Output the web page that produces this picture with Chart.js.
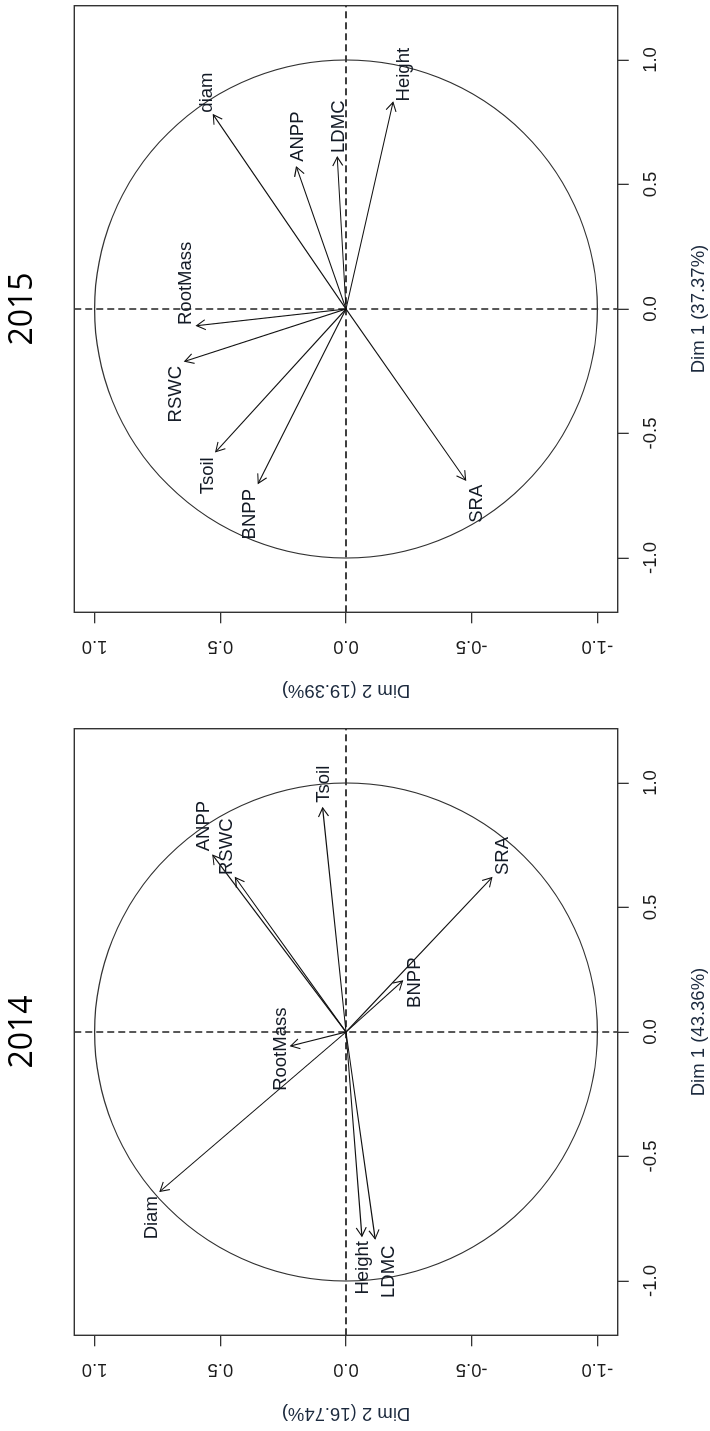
<!DOCTYPE html>
<html>
<head>
<meta charset="utf-8">
<script src="https://cdn.jsdelivr.net/npm/chart.js@4.4.1/dist/chart.umd.min.js"></script>
<style>
html, body { margin: 0; padding: 0; background: #fff; overflow: hidden; }
/* the whole figure is drawn landscape, then turned a quarter turn to the left */
#fig { position: absolute; left: 0; top: 0; width: 1431px; height: 710px;
       transform-origin: 0 0; transform: translateY(1431px) rotate(-90deg); }
.panel { position: absolute; top: 0; width: 708px; height: 710px; }
</style>
</head>
<body>
<div id="fig">
  <div class="panel" style="left:0"><canvas id="c2014" width="708" height="710"></canvas></div>
  <div class="panel" style="left:723px"><canvas id="c2015" width="708" height="710"></canvas></div>
</div>
<script>
const axisTicks = [-1, -0.5, 0, 0.5, 1];

// 2014
const vars2014 = ['Tsoil', 'ANPP', 'RSWC', 'SRA', 'BNPP', 'RootMass', 'Diam', 'Height', 'LDMC'];
const dim1_2014 = [0.90, 0.71, 0.62, 0.62, 0.205, -0.056, -0.64, -0.82, -0.83];
const dim2_2014 = [0.093, 0.53, 0.44, -0.58, -0.225, 0.22, 0.74, -0.063, -0.116];
const labDim1_2014 = [0.995, 0.827, 0.744, 0.707, 0.198, -0.069, -0.746, -0.947, -0.963];
const labDim2_2014 = [0.087, 0.567, 0.474, -0.625, -0.274, 0.26, 0.774, -0.069, -0.169];
const pct2014 = ['43.36%', '16.74%'];

// 2015
const vars2015 = ['diam', 'ANPP', 'LDMC', 'Height', 'RootMass', 'RSWC', 'Tsoil', 'BNPP', 'SRA'];
const dim1_2015 = [0.78, 0.57, 0.61, 0.83, -0.067, -0.21, -0.573, -0.70, -0.687];
const dim2_2015 = [0.528, 0.197, 0.035, -0.187, 0.594, 0.641, 0.518, 0.349, -0.476];
const labDim1_2015 = [0.869, 0.692, 0.732, 0.941, 0.103, -0.342, -0.67, -0.824, -0.782];
const labDim2_2015 = [0.555, 0.19, 0.029, -0.231, 0.636, 0.676, 0.551, 0.381, -0.522];
const pct2015 = ['37.37%', '19.39%'];

const rFont = '"Liberation Sans", Arial, sans-serif';

const pcaPlugin = {
  id: 'pca',
  beforeDatasetsDraw(chart) {
    const { ctx, chartArea: a, scales: { x, y } } = chart;
    const cx = x.getPixelForValue(0), cy = y.getPixelForValue(0);
    ctx.save();
    ctx.strokeStyle = '#000';
    ctx.lineWidth = 1.3;
    ctx.setLineDash([7, 4]);
    ctx.beginPath();
    ctx.moveTo(a.left, cy); ctx.lineTo(a.right, cy);
    ctx.moveTo(cx, a.top); ctx.lineTo(cx, a.bottom);
    ctx.stroke();
    ctx.setLineDash([]);
    ctx.strokeStyle = '#333';
    ctx.lineWidth = 1.1;
    ctx.beginPath();
    ctx.ellipse(cx, cy, Math.abs(x.getPixelForValue(1) - cx), Math.abs(y.getPixelForValue(1) - cy), 0, 0, 2 * Math.PI);
    ctx.stroke();
    ctx.restore();
  },
  afterDatasetsDraw(chart) {
    const { ctx, chartArea: a, scales: { x, y } } = chart;
    ctx.save();
    ctx.strokeStyle = '#111';
    ctx.lineWidth = 1.1;
    ctx.fillStyle = '#141b26';
    ctx.font = '18.5px ' + rFont;
    ctx.textAlign = 'center';
    ctx.textBaseline = 'middle';
    chart.data.datasets.forEach(ds => {
      const x0 = x.getPixelForValue(ds.data[0].x), y0 = y.getPixelForValue(ds.data[0].y);
      const x1 = x.getPixelForValue(ds.data[1].x), y1 = y.getPixelForValue(ds.data[1].y);
      const ang = Math.atan2(y1 - y0, x1 - x0);
      const len = 10, spread = Math.PI / 6;
      ctx.beginPath();
      ctx.moveTo(x1 - len * Math.cos(ang - spread), y1 - len * Math.sin(ang - spread));
      ctx.lineTo(x1, y1);
      ctx.lineTo(x1 - len * Math.cos(ang + spread), y1 - len * Math.sin(ang + spread));
      ctx.stroke();
      ctx.fillText(ds.label, x.getPixelForValue(ds.labelX), y.getPixelForValue(ds.labelY));
    });
    // plot box
    ctx.strokeStyle = '#333';
    ctx.lineWidth = 1.4;
    ctx.strokeRect(a.left, a.top, a.right - a.left, a.bottom - a.top);
    ctx.restore();
  }
};

function makePlot(id, year, names, d1, d2, l1, l2, pct) {
  const datasets = names.map((n, i) => ({
    label: n,
    data: [{ x: 0, y: 0 }, { x: d1[i], y: d2[i] }],
    labelX: l1[i],
    labelY: l2[i],
    showLine: true,
    borderColor: '#111',
    borderWidth: 1.1,
    pointRadius: 0,
    fill: false
  }));
  const tickSetup = scale => { scale.ticks = axisTicks.map(v => ({ value: v })); };
  new Chart(document.getElementById(id), {
    type: 'scatter',
    data: { datasets },
    options: {
      responsive: false,
      animation: false,
      events: [],
      layout: { padding: { left: 0, right: 5.7, top: 0, bottom: 0 } },
      plugins: {
        legend: { display: false },
        tooltip: { enabled: false },
        title: {
          display: true, text: year, fullSize: false, color: '#000',
          font: { family: '"Open Sans", "Noto Sans", sans-serif', size: 32, weight: 'normal', lineHeight: 1.2 },
          padding: { top: 4, bottom: 31.9 }
        }
      },
      scales: {
        x: {
          type: 'linear', min: -1.218, max: 1.218,
          afterBuildTicks: tickSetup,
          afterFit: s => { s.height = 92.3; },
          border: { display: false },
          grid: { drawOnChartArea: false, drawTicks: true, tickLength: 11, color: '#333', lineWidth: 1.3 },
          ticks: { color: '#1c1c1c', padding: 11.5, font: { family: rFont, size: 18.5 },
                   callback: v => v.toFixed(1), maxRotation: 0 },
          title: { display: true, text: 'Dim 1 (' + pct[0] + ')', color: '#1c2a3e',
                   font: { family: rFont, size: 18.5 }, padding: { top: 0, bottom: 0 } }
        },
        y: {
          type: 'linear', min: -1.081, max: 1.081,
          afterBuildTicks: tickSetup,
          afterFit: s => { s.width = 95.7; },
          border: { display: false },
          grid: { drawOnChartArea: false, drawTicks: true, tickLength: 11, color: '#333', lineWidth: 1.3 },
          ticks: { color: '#1c1c1c', padding: 7.3, crossAlign: 'center', minRotation: 90, maxRotation: 90,
                   font: { family: rFont, size: 18.5 }, callback: v => v.toFixed(1) },
          title: { display: true, text: 'Dim 2 (' + pct[1] + ')', color: '#1c2a3e',
                   font: { family: rFont, size: 18.5 }, padding: { top: 7, bottom: 0 } }
        }
      }
    },
    plugins: [pcaPlugin]
  });
}

makePlot('c2014', '2014', vars2014, dim1_2014, dim2_2014, labDim1_2014, labDim2_2014, pct2014);
makePlot('c2015', '2015', vars2015, dim1_2015, dim2_2015, labDim1_2015, labDim2_2015, pct2015);
</script>
</body>
</html>
